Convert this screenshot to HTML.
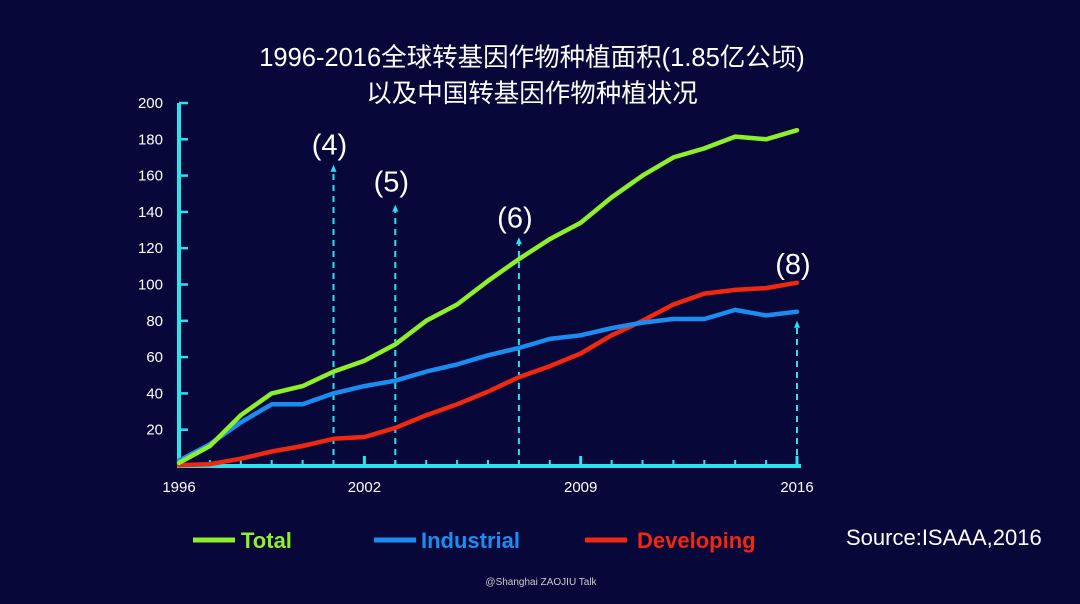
<!DOCTYPE html>
<html><head><meta charset="utf-8"><style>
html,body{margin:0;padding:0;background:#07073a;}
svg{display:block;font-family:"Liberation Sans","Noto Sans CJK SC",sans-serif;}
</style></head><body>
<svg id="chart" width="1080" height="604" viewBox="0 0 1080 604" xmlns="http://www.w3.org/2000/svg">
<rect width="1080" height="604" fill="#07073a"/>
<text x="532" y="66" fill="#fff" font-size="25.5" text-anchor="middle">1996-2016全球转基因作物种植面积(1.85亿公顷)</text>
<text x="532" y="102" fill="#fff" font-size="25.5" text-anchor="middle">以及中国转基因作物种植状况</text>
<g id="grid"></g>
<g id="marks"></g>
<g>
<line x1="193" y1="540" x2="235" y2="540" stroke="#8fef2a" stroke-width="5"/>
<text x="241" y="548" fill="#8fef2a" font-size="22" font-weight="bold">Total</text>
<line x1="374" y1="540" x2="416" y2="540" stroke="#1b8cf2" stroke-width="5"/>
<text x="421" y="548" fill="#1b8cf2" font-size="22" font-weight="bold">Industrial</text>
<line x1="585" y1="540" x2="627" y2="540" stroke="#f0280f" stroke-width="5"/>
<text x="637" y="548" fill="#f0280f" font-size="22" font-weight="bold">Developing</text>
</g>
<text x="846" y="545" fill="#fff" font-size="22">Source:ISAAA,2016</text>
<text x="541" y="585" fill="#ccc" font-size="10" text-anchor="middle">@Shanghai ZAOJIU Talk</text>
</svg>
<script>
const years = [1996,1997,1998,1999,2000,2001,2002,2003,2004,2005,2006,2007,2008,2009,2010,2011,2012,2013,2014,2015,2016];
const totalValues = [1.7,11,28,40,44,52,58,67,80,89,102,114,125,134,148,160,170,175,181.5,180,185];
const industrialValues = [3,12,24,34,34,40,44,47,52,56,61,65,70,72,76,79,81,81,86,83,85];
const developingValues = [0.5,1,4,8,11,15,16,21,28,34,41,49,55,62,72,80,89,95,97,98,101];
const yTicks = [20,40,60,80,100,120,140,160,180,200];
const xLabels = [1996,2002,2009,2016];
const markerYears = [2001,2003,2007,2016];
const markerTops = [166,144,126,80];
const markerLabels = ["(4)","(5)","(6)","(8)"];

const NS="http://www.w3.org/2000/svg";
const X0=179, XPER=30.9, Y0=466, YPER=1.815;
const xs = y => X0+(y-1996)*XPER;
const ys = v => Y0-v*YPER;
const labelGaps = [10,13,10,47];
const grid=document.getElementById('grid'), marks=document.getElementById('marks');
function mk(tag,attrs,parent){const e=document.createElementNS(NS,tag);for(const k in attrs)e.setAttribute(k,attrs[k]);parent.appendChild(e);return e;}
const AX="#29e3ee";
let e;
e=mk('line',{x1:X0,y1:ys(200),x2:X0,y2:Y0+2,stroke:AX,'stroke-width':4},grid);


e=mk('line',{x1:X0-2,y1:Y0,x2:xs(2016)+4,y2:Y0,stroke:AX,'stroke-width':4},grid);


yTicks.forEach(v=>{
  e=mk('line',{x1:X0,y1:ys(v),x2:X0+9,y2:ys(v),stroke:AX,'stroke-width':2.5},grid);
  
  
  e=mk('text',{x:163,y:ys(v)+5,fill:'#fff','font-size':15,'text-anchor':'end'},grid);
  e.textContent=v;
  
  
});
years.forEach(y=>{
  const big = xLabels.includes(y) && y!==1996;
  e=mk('line',{x1:xs(y),y1:Y0,x2:xs(y),y2:Y0-(big?10:6),stroke:AX,'stroke-width':big?3:2},grid);
  
  
});
xLabels.forEach(y=>{
  e=mk('text',{x:xs(y),y:492,fill:'#fff','font-size':15,'text-anchor':'middle'},grid);
  e.textContent=y;
  
  
});
markerYears.forEach((y,i)=>{
  const x=xs(y);
  e=mk('line',{x1:x,y1:Y0,x2:x,y2:ys(markerTops[i])+4,stroke:AX,'stroke-width':2,'stroke-dasharray':'6,5'},marks);
  
  
  const t=ys(markerTops[i]);
  e=mk('polygon',{points:`${x-3},${t+7} ${x+3},${t+7} ${x},${t}`,fill:AX},marks);
  
  
  e=mk('text',{x:x-4,y:t-labelGaps[i],fill:'#fff','font-size':29,'text-anchor':'middle'},marks);
  e.textContent=markerLabels[i];
  
  
});
function series(vals,color,name){
  const p=vals.map((v,i)=>`${xs(years[i]).toFixed(1)},${ys(v).toFixed(1)}`).join(' ');
  e=mk('polyline',{points:p,fill:'none',stroke:color,'stroke-width':4.5,'stroke-linejoin':'round','stroke-linecap':'round'},marks);
  
  
}
series(developingValues,'#f0280f','developing-line');
series(industrialValues,'#1b8cf2','industrial-line');
series(totalValues,'#8fef2a','total-line');
</script>
</body></html>
